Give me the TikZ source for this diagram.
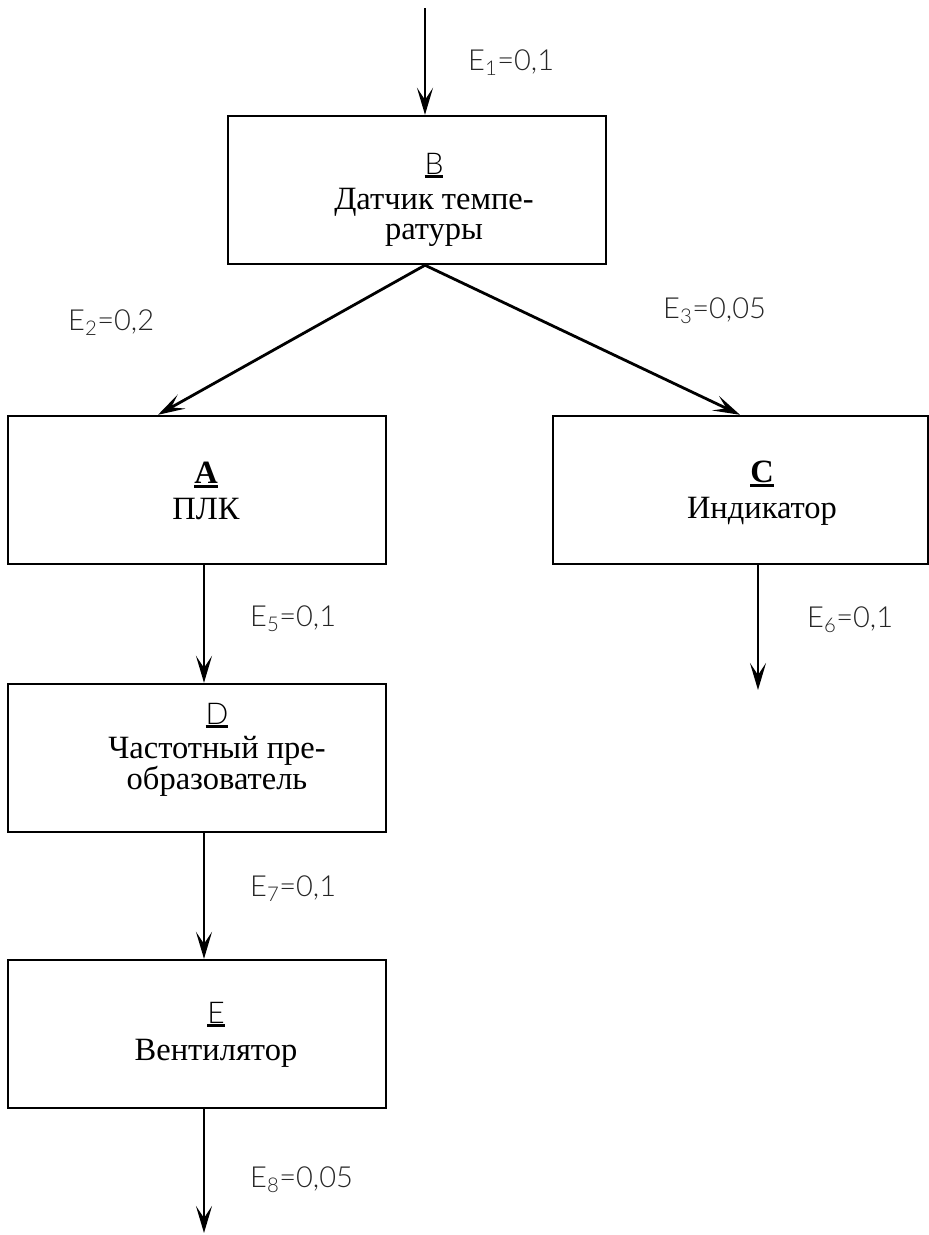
\documentclass[tikz,border=0pt]{standalone}
\usepackage{fontspec}
\setmainfont{Liberation Serif}
\IfFontExistsTF{Lato Light}{\newfontfamily\labfont{Lato Light}}{\newfontfamily\labfont{Lato}}
\usetikzlibrary{arrows.meta,calc}

% thick underline under the block letters
\newcommand\ulmark[1]{\setbox0=\hbox{#1}\leavevmode\rlap{\rule[-4pt]{\wd0}{3pt}}\box0}
\newcommand\blkletter[1]{{\labfont\fontsize{30}{30}\selectfont\ulmark{#1}}}
\newcommand\blkbold[1]{{\bfseries\ulmark{#1}}}

\begin{document}
\begin{tikzpicture}[x=1pt,y=-1pt,
  blk/.style={draw, line width=2.4pt, minimum width=378pt, minimum height=148pt, inner sep=0pt},
  txt/.style={align=center, font=\fontsize{32.5}{30}\selectfont, inner sep=0pt, anchor=north},
  lab/.style={font=\labfont\fontsize{29}{30}\selectfont, text=black!85, anchor=base west, inner sep=0pt},
  arr/.style={line width=2.8pt, -{Stealth[length=27pt,width=16pt,inset=12pt]}}]
\useasboundingbox (0,0) rectangle (929,1235);

% blocks
\node[blk] (B) at (417,190) {};
\node[blk] (A) at (197,490) {};
\node[blk, minimum width=375pt] (C) at (740.5,490) {};
\node[blk] (D) at (197,758) {};
\node[blk] (E) at (197,1034) {};

% block texts
\node[txt] (Bt) at (434,153) {\blkletter{B}\\[5pt]Датчик темпе-\\ратуры};
\node[txt] (At) at (206,462) {\blkbold{A}\\[6pt]ПЛК};
\node[txt] (Ct) at (762,461) {\blkbold{C}\\[6pt]Индикатор};
\node[txt] (Dt) at (217,703) {\blkletter{D}\\[4pt]Частотный пре-\\образователь};
\node[txt] (Et) at (216,1002) {\blkletter{E}\\[7pt]Вентилятор};

% connector ends
\coordinate (in) at (425,8);
\coordinate (aTip) at (158,0);
\coordinate (cTip) at (740,0);
\coordinate (left) at (204,0);
\coordinate (cOut) at (758,690);
\coordinate (eOut) at (204,1233);

% connectors
\draw[arr] (in) -- (in |- B.north);
\draw[arr] (in |- B.south) -- (aTip |- A.north);
\draw[arr] (in |- B.south) -- (cTip |- C.north);
\draw[arr] (left |- A.south) -- (left |- D.north);
\draw[arr] (left |- D.south) -- (left |- E.north);
\draw[arr] (left |- E.south) -- (eOut);
\draw[arr] (cOut |- C.south) -- (cOut);

% flow labels
\node[lab] (l1) at (468,70) {E\textsubscript{1}=0,1};
\node[lab] (l2) at (68,330) {E\textsubscript{2}=0,2};
\node[lab] (l3) at (663,318) {E\textsubscript{3}=0,05};
\node[lab] (l5) at (250,626) {E\textsubscript{5}=0,1};
\node[lab] (l6) at (807,627) {E\textsubscript{6}=0,1};
\node[lab] (l7) at (250,896) {E\textsubscript{7}=0,1};
\node[lab] (l8) at (250,1187) {E\textsubscript{8}=0,05};
\end{tikzpicture}
\end{document}
